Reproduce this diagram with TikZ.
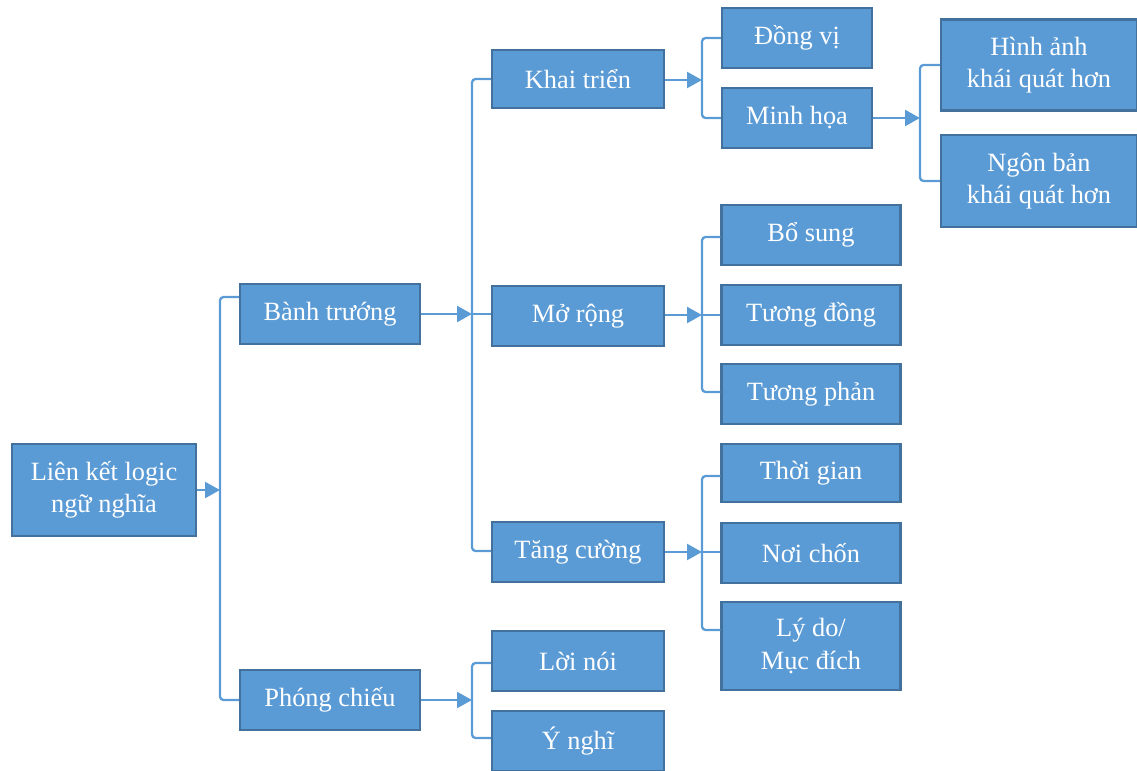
\documentclass[tikz,border=0pt]{standalone}
\usepackage{fontspec}
\setmainfont{Liberation Serif}
\usetikzlibrary{arrows.meta}
\definecolor{boxfill}{HTML}{5B9BD5}
\definecolor{boxline}{HTML}{41719C}
\definecolor{conncol}{HTML}{5B9BD5}
\tikzset{
  box/.style={draw=boxline, fill=boxfill, line width=1.2pt, text=white,
    font=\fontsize{15}{18.5}\selectfont, align=center, inner sep=2pt},
  conn/.style={draw=conncol, line width=1.3pt, rounded corners=2pt},
  arr/.style={draw=conncol, line width=1.3pt, -{Triangle[length=0.3cm,width=0.32cm]}}
}
\begin{document}
\begin{tikzpicture}[x=0.02cm,y=-0.02cm]
\useasboundingbox (0,0) rectangle (1137,771);
% level 0
\node[box, minimum width=3.68cm, minimum height=1.84cm] (L) at (104,490) {Liên kết logic\\ngữ nghĩa};
% level 1
\node[box, minimum width=3.6cm, minimum height=1.2cm] (B) at (330,314) {Bành trướng};
\node[box, minimum width=3.6cm, minimum height=1.2cm] (P) at (330,700) {Phóng chiếu};
% level 2
\node[box, minimum width=3.44cm, minimum height=1.16cm] (K) at (578,79) {Khai triển};
\node[box, minimum width=3.44cm, minimum height=1.2cm] (M) at (578,316) {Mở rộng};
\node[box, minimum width=3.44cm, minimum height=1.2cm] (T) at (578,552) {Tăng cường};
\node[box, minimum width=3.44cm, minimum height=1.2cm] (LN) at (578,661) {Lời nói};
\node[box, minimum width=3.44cm, minimum height=1.2cm] (YN) at (578,741) {Ý nghĩ};
% level 3
\node[box, minimum width=3.0cm, minimum height=1.2cm] (DV) at (797,38) {Đồng vị};
\node[box, minimum width=3.0cm, minimum height=1.2cm] (MH) at (797,118) {Minh họa};
\node[box, minimum width=3.58cm, minimum height=1.2cm] (BS) at (811,235) {Bổ sung};
\node[box, minimum width=3.58cm, minimum height=1.2cm] (TD) at (811,315) {Tương đồng};
\node[box, minimum width=3.58cm, minimum height=1.2cm] (TP) at (811,394) {Tương phản};
\node[box, minimum width=3.58cm, minimum height=1.16cm] (TG) at (811,473) {Thời gian};
\node[box, minimum width=3.58cm, minimum height=1.2cm] (NC) at (811,553) {Nơi chốn};
\node[box, minimum width=3.58cm, minimum height=1.76cm] (LD) at (811,646) {Lý do/\\Mục đích};
% level 4
\node[box, minimum width=3.92cm, minimum height=1.82cm] (HA) at (1039,65) {Hình ảnh\\khái quát hơn};
\node[box, minimum width=3.92cm, minimum height=1.84cm] (NB) at (1039,181) {Ngôn bản\\khái quát hơn};
% bracket coordinates
\coordinate (b1) at (220,490);
\coordinate (b2) at (472,314);
\coordinate (b3) at (702,80);
\coordinate (b4) at (920,118);
\coordinate (b5) at (702,315);
\coordinate (b6) at (702,552);
\coordinate (b7) at (472,700);
% brackets
\draw[conn] ([yshift=0.34cm]B.west) -| (b1) |- (P.west);
\draw[conn] (K.west) -| (b2) |- ([yshift=0.02cm]T.west);
\draw[conn] (b2) -- (M.west |- b2);
\draw[conn] (DV.west) -| (b3) |- (MH.west);
\draw[conn] (HA.west) -| (b4) |- (NB.west);
\draw[conn] ([yshift=-0.04cm]BS.west) -| (b5) |- ([yshift=0.04cm]TP.west);
\draw[conn] (b5) -- (TD.west |- b5);
\draw[conn] ([yshift=-0.06cm]TG.west) -| (b6) |- ([yshift=0.32cm]LD.west);
\draw[conn] (b6) -- (NC.west |- b6);
\draw[conn] ([yshift=-0.04cm]LN.west) -| (b7) |- ([yshift=0.06cm]YN.west);
% arrows
\draw[arr] (L.east) -- (L.east -| b1);
\draw[arr] (B.east |- b2) -- (b2);
\draw[arr] (K.east |- b3) -- (b3);
\draw[arr] (MH.east) -- (MH.east -| b4);
\draw[arr] (M.east |- b5) -- (b5);
\draw[arr] (T.east |- b6) -- (b6);
\draw[arr] (P.east) -- (P.east -| b7);
\end{tikzpicture}
\end{document}
